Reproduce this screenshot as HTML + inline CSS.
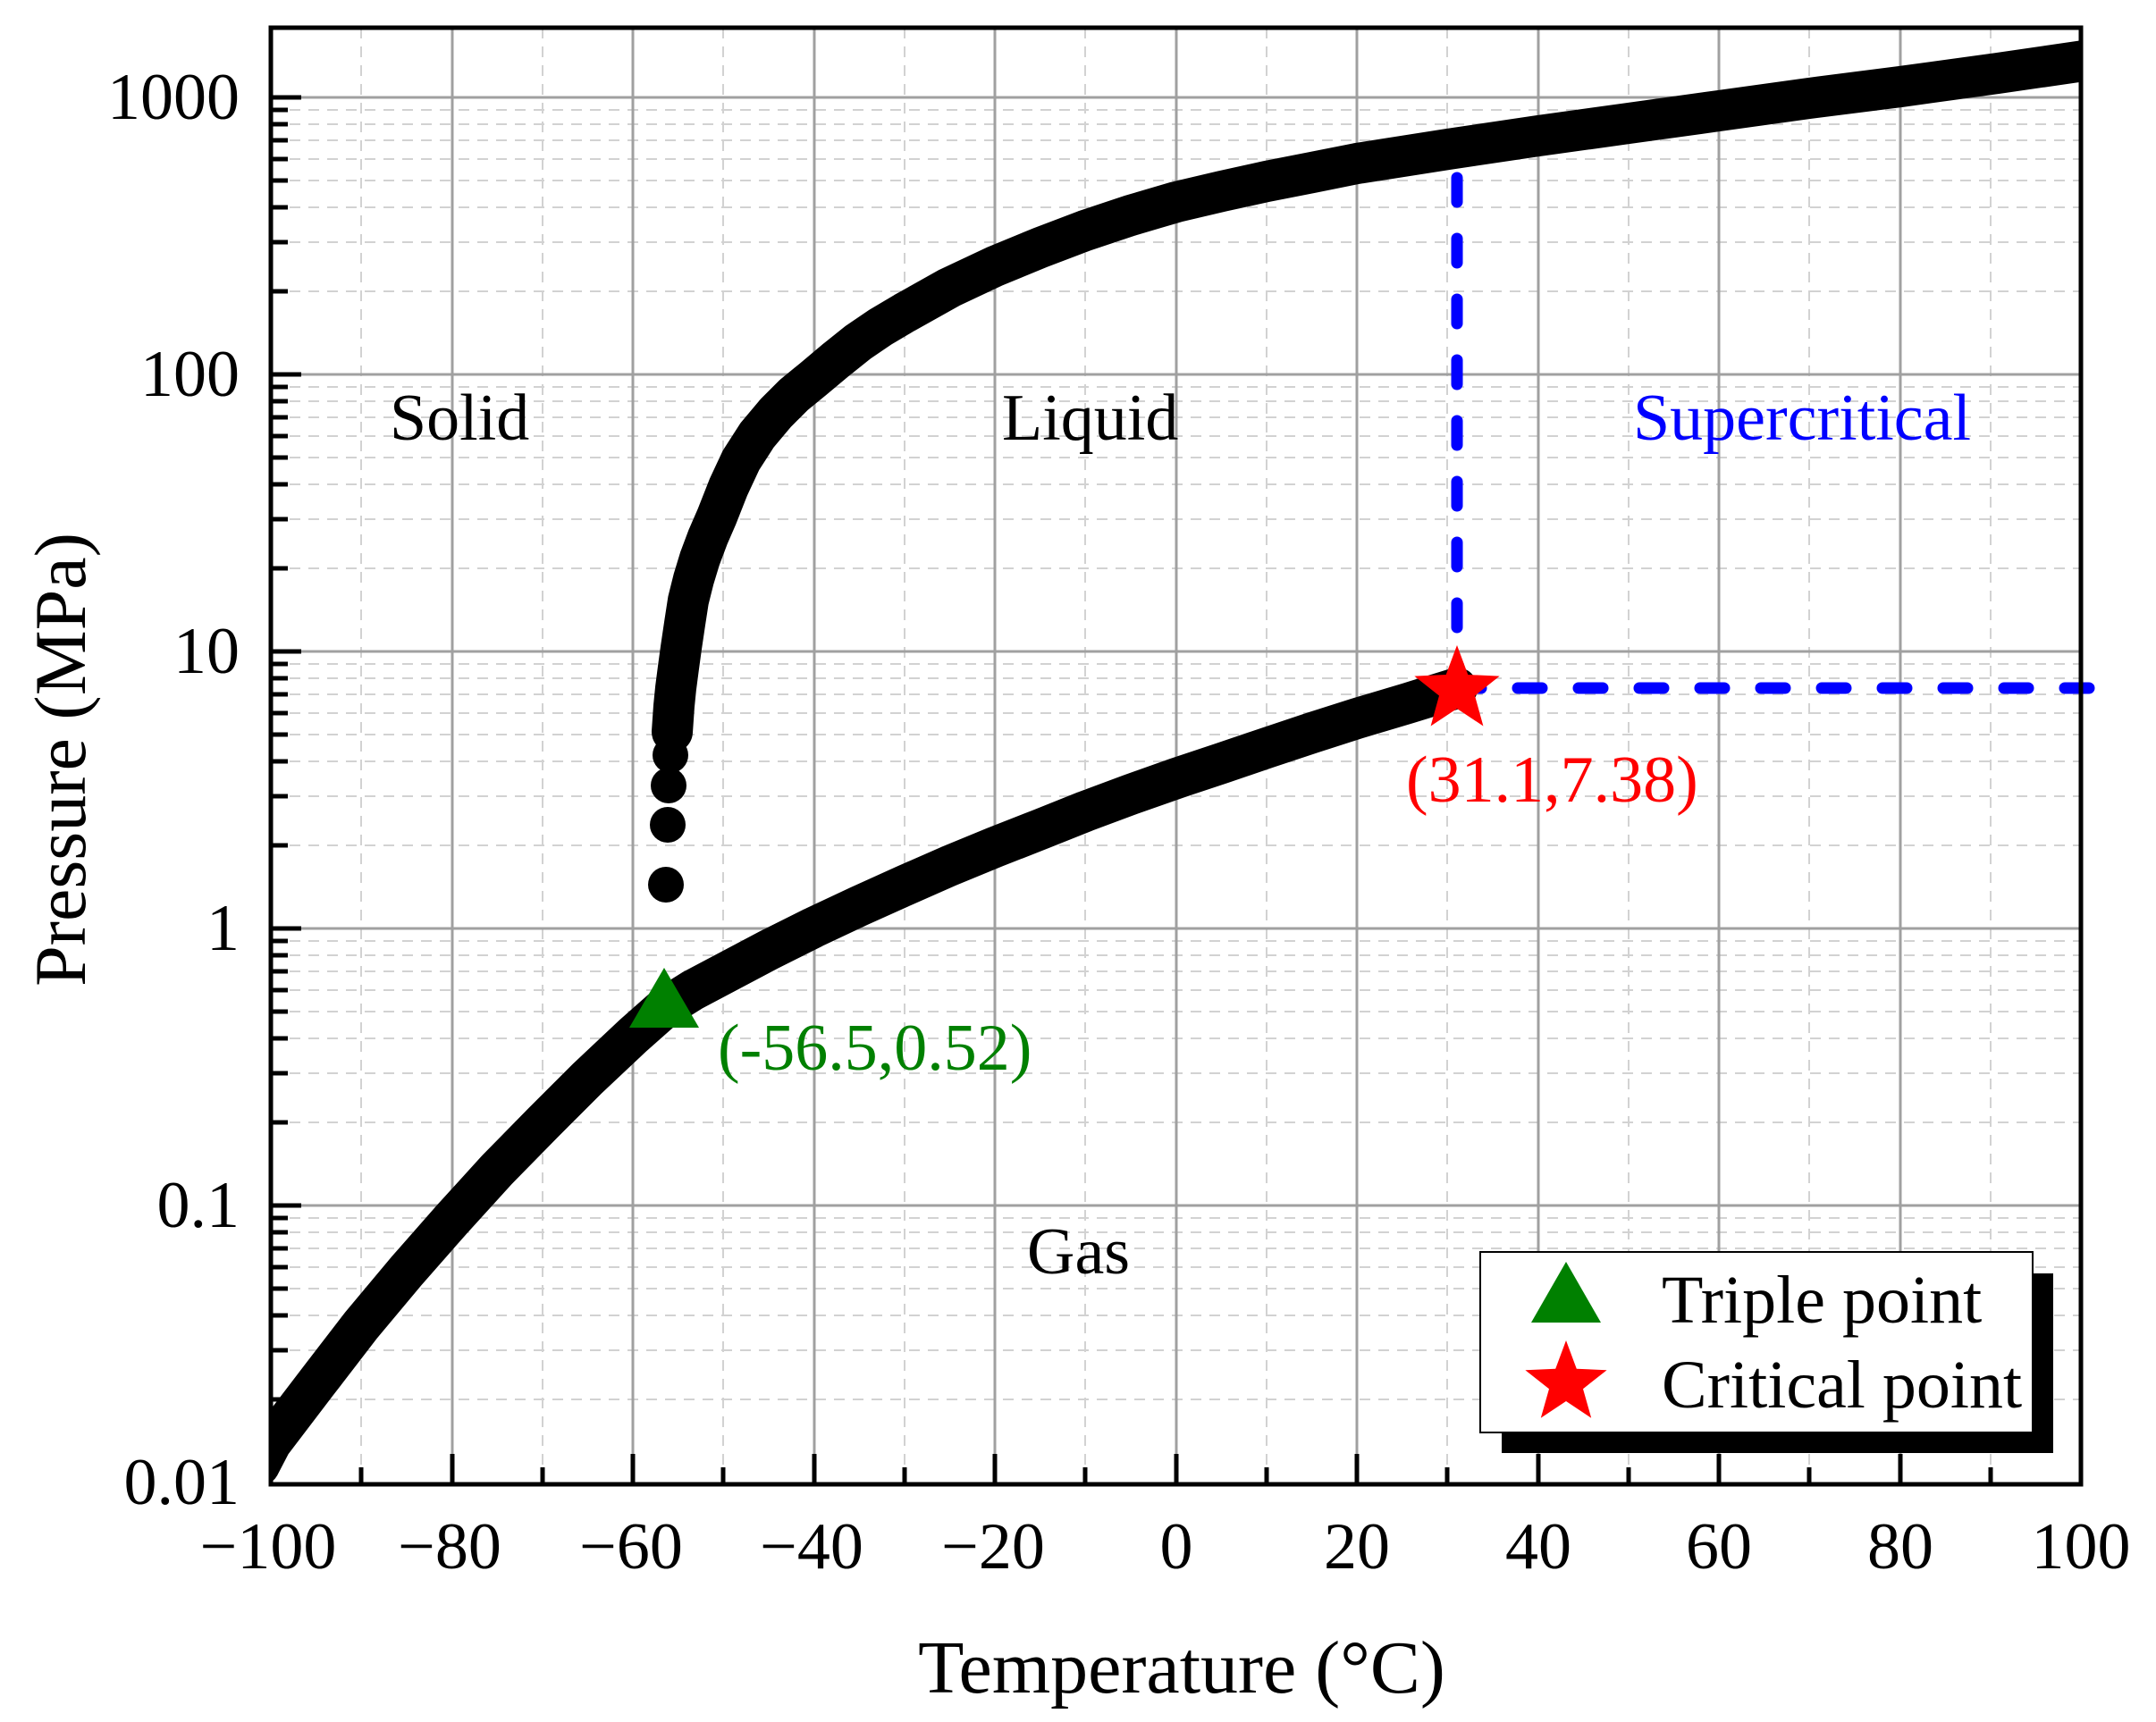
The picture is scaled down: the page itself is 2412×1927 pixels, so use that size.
<!DOCTYPE html>
<html><head><meta charset="utf-8"><style>
html,body{margin:0;padding:0;background:#fff;}
svg{display:block;}
text{font-family:"Liberation Serif","DejaVu Serif",serif;}
</style></head><body>
<svg width="2412" height="1927" viewBox="0 0 2412 1927" xmlns="http://www.w3.org/2000/svg">
<defs><clipPath id="pc"><rect x="303" y="31" width="2025" height="1630"/></clipPath></defs>
<path fill="none" stroke="#d2d2d2" stroke-width="2" stroke-dasharray="12 9" d="
M404,31V1661 M607,31V1661 M809,31V1661 M1012,31V1661 M1214,31V1661 M1417,31V1661 M1619,31V1661 M1822,31V1661 M2024,31V1661 M2227,31V1661
M303,1566H2328 M303,1511H2328 M303,1472H2328 M303,1442H2328 M303,1418H2328 M303,1397H2328 M303,1379H2328 M303,1363H2328
M303,1256H2328 M303,1201H2328 M303,1162H2328 M303,1132H2328 M303,1108H2328 M303,1087H2328 M303,1069H2328 M303,1053H2328
M303,946H2328 M303,891H2328 M303,852H2328 M303,822H2328 M303,798H2328 M303,777H2328 M303,759H2328 M303,743H2328
M303,636H2328 M303,581H2328 M303,542H2328 M303,512H2328 M303,488H2328 M303,467H2328 M303,449H2328 M303,433H2328
M303,326H2328 M303,271H2328 M303,232H2328 M303,202H2328 M303,178H2328 M303,157H2328 M303,139H2328 M303,123H2328"/>
<path fill="none" stroke="#a0a0a0" stroke-width="3" d="
M506,31V1661 M708,31V1661 M911,31V1661 M1113,31V1661 M1316,31V1661 M1518,31V1661 M1721,31V1661 M1923,31V1661 M2126,31V1661
M303,109H2328 M303,419H2328 M303,729H2328 M303,1039H2328 M303,1349H2328"/>
<g clip-path="url(#pc)">
<polyline fill="none" stroke="#000" stroke-width="46" stroke-linejoin="round" stroke-linecap="round"
 points="290,1640 303,1615 354,1548 404,1483 455,1422 506,1364 556,1309 607,1257 657,1207 708,1159 743,1128 775,1108 809,1090 860,1063 910,1038 961,1014 1012,991 1062,969 1113,948 1164,928 1214,908 1265,889 1316,871 1367,854 1417,837 1468,820 1518,804 1575,787 1630,770"/>
<polyline fill="none" stroke="#000" stroke-width="46" stroke-linejoin="round" stroke-linecap="round"
 points="752,819 754,790 756,770 759,747 762,725 766,698 770,672 776,648 783,625 792,601 802,578 815,545 829,515 847,487 868,462 888,442 910,424 935,403 960,383 985,366 1012,350 1062,322 1113,298 1164,277 1214,258 1265,241 1316,226 1367,214 1417,203 1468,193 1518,183 1620,167 1721,152 1822,138 1923,124 2024,110 2126,97 2235,82 2345,66"/>
</g>
<circle cx="745" cy="990" r="20"/><circle cx="747" cy="923" r="20"/><circle cx="748" cy="879" r="20"/><circle cx="750" cy="845" r="20"/><circle cx="752" cy="819" r="20"/>
<g stroke="#0000ff" stroke-width="13" stroke-linecap="round" fill="none" stroke-dasharray="27 41">
<line x1="1630" y1="770" x2="1630" y2="193"/>
<line x1="1630" y1="770" x2="2345" y2="770"/>
</g>
<polygon fill="#008000" points="743,1083 704,1150 782,1150"/>
<polygon fill="#ff0000" points="1630,722 1642.3,755 1677.6,756.6 1650,778.5 1659.4,812.5 1630,793 1600.6,812.5 1610,778.5 1582.4,756.6 1617.7,755"/>
<rect x="1680" y="1425" width="617" height="201" fill="#000"/>
<rect x="1656" y="1401" width="618" height="202" fill="#fff" stroke="#000" stroke-width="2"/>
<polygon fill="#008000" points="1752,1412 1713,1480 1791,1480"/>
<polygon fill="#ff0000" points="1752,1500 1763.8,1531.8 1797.6,1533.2 1771,1554.2 1780.2,1586.8 1752,1568 1723.8,1586.8 1733,1554.2 1706.4,1533.2 1740.2,1531.8"/>
<text x="1859" y="1480" font-size="76">Triple point</text>
<text x="1859" y="1575" font-size="76">Critical point</text>
<rect x="303" y="31" width="2025" height="1630" fill="none" stroke="#000" stroke-width="5"/>
<path fill="none" stroke="#000" stroke-width="5" d="
M506,1661V1627 M708,1661V1627 M911,1661V1627 M1113,1661V1627 M1316,1661V1627 M1518,1661V1627 M1721,1661V1627 M1923,1661V1627 M2126,1661V1627
M404,1661V1642 M607,1661V1642 M809,1661V1642 M1012,1661V1642 M1214,1661V1642 M1417,1661V1642 M1619,1661V1642 M1822,1661V1642 M2024,1661V1642 M2227,1661V1642
M303,109H337 M303,419H337 M303,729H337 M303,1039H337 M303,1349H337
M303,1566H322 M303,1511H322 M303,1472H322 M303,1442H322 M303,1418H322 M303,1397H322 M303,1379H322 M303,1363H322
M303,1256H322 M303,1201H322 M303,1162H322 M303,1132H322 M303,1108H322 M303,1087H322 M303,1069H322 M303,1053H322
M303,946H322 M303,891H322 M303,852H322 M303,822H322 M303,798H322 M303,777H322 M303,759H322 M303,743H322
M303,636H322 M303,581H322 M303,542H322 M303,512H322 M303,488H322 M303,467H322 M303,449H322 M303,433H322
M303,326H322 M303,271H322 M303,232H322 M303,202H322 M303,178H322 M303,157H322 M303,139H322 M303,123H322"/>
<g font-size="74" text-anchor="end">
<text x="268" y="133">1000</text><text x="268" y="443">100</text><text x="268" y="753">10</text>
<text x="268" y="1063">1</text><text x="268" y="1373">0.1</text><text x="268" y="1683">0.01</text>
</g>
<g font-size="74" text-anchor="middle">
<text x="300" y="1755">−100</text><text x="503" y="1755">−80</text><text x="706" y="1755">−60</text>
<text x="908" y="1755">−40</text><text x="1111" y="1755">−20</text><text x="1316" y="1755">0</text>
<text x="1518" y="1755">20</text><text x="1721" y="1755">40</text><text x="1923" y="1755">60</text>
<text x="2126" y="1755">80</text><text x="2328" y="1755">100</text>
</g>
<text x="1322" y="1894" font-size="84" text-anchor="middle">Temperature (°C)</text>
<text transform="translate(95,850) rotate(-90)" font-size="82" text-anchor="middle">Pressure (MPa)</text>
<g font-size="74">
<text x="436" y="492">Solid</text>
<text x="1121" y="492">Liquid</text>
<text x="1827" y="492" fill="#0000ff">Supercritical</text>
<text x="1149" y="1425">Gas</text>
<text x="1573" y="897" fill="#ff0000">(31.1,7.38)</text>
<text x="803" y="1197" fill="#008000">(-56.5,0.52)</text>
</g>
</svg>
</body></html>
